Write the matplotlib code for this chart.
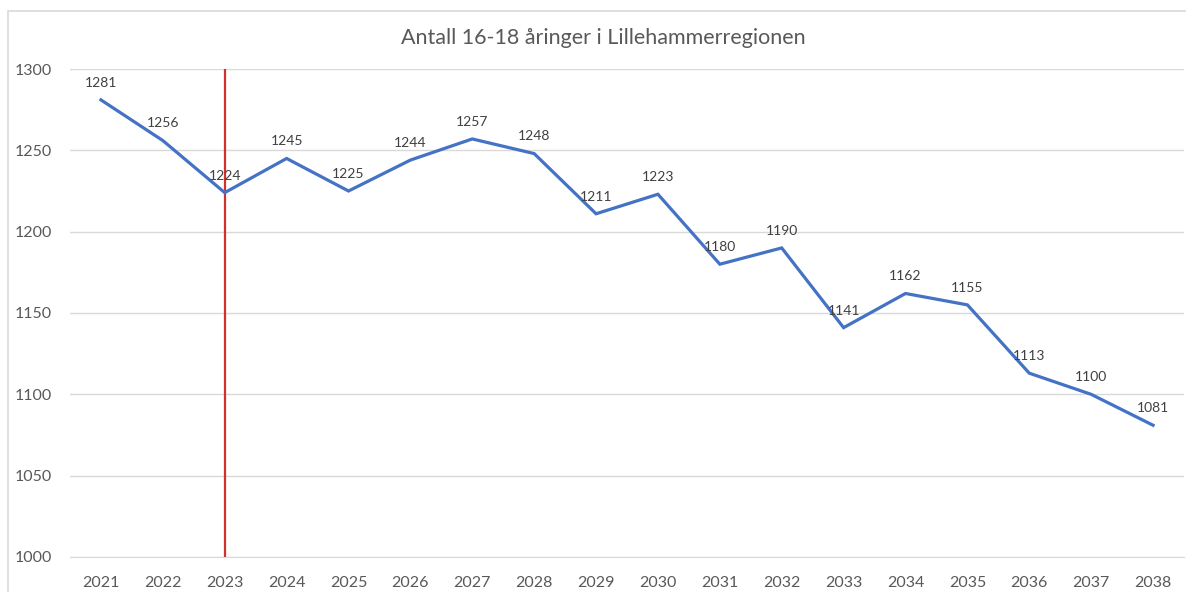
import matplotlib
matplotlib.use("Agg")
import matplotlib.pyplot as plt
from matplotlib.patches import Rectangle

years = [str(y) for y in range(2021, 2039)]
values = [1281, 1256, 1224, 1245, 1225, 1244, 1257, 1248, 1211, 1223,
          1180, 1190, 1141, 1162, 1155, 1113, 1100, 1081]
title = "Antall 16-18 åringer i Lillehammerregionen"
marker_year = "2023"
yticks = [1000, 1050, 1100, 1150, 1200, 1250, 1300]

plt.rcParams['font.family'] = ['Lato', 'DejaVu Sans']

fig = plt.figure(figsize=(11.86, 5.92), dpi=100)
# outer chart border (extends off the right/bottom edges)
fig.patches.append(Rectangle((8/1186, -0.01), 1.1, 1 - 11/592 + 0.01,
                             transform=fig.transFigure, fill=False,
                             edgecolor='#d9d9d9', linewidth=1.2))
ax = fig.add_axes([70/1186, 1 - 557/592, 1114/1186, (557 - 69)/592])

x = list(range(len(years)))
ax.plot(x, values, color='#4472C4', linewidth=2.3, solid_joinstyle='miter', zorder=3)
for xi, v in zip(x, values):
    ax.annotate(str(v), (xi, v), xytext=(0, 8), textcoords='offset points',
                ha='center', va='bottom', fontsize=10, color='#404040', zorder=4)

mi = years.index(marker_year)
ax.plot([mi, mi], [yticks[0], yticks[-1]], color='#D0312D', linewidth=1.6, zorder=2)

ax.set_xlim(-0.5, len(years) - 0.5)
ax.set_ylim(yticks[0], yticks[-1])
ax.set_yticks(yticks)
ax.set_xticks(x)
ax.set_xticklabels(years)
ax.yaxis.grid(True, color='#d9d9d9', linewidth=1)
ax.set_axisbelow(True)
for s in ax.spines.values():
    s.set_visible(False)
ax.spines['bottom'].set_visible(True)
ax.spines['bottom'].set_color('#d9d9d9')
ax.tick_params(axis='both', length=0, labelsize=11.5, labelcolor='#595959')
ax.tick_params(axis='x', pad=14)
ax.tick_params(axis='y', pad=13)

fig.text(603/1186, 1 - 38/592, title, ha='center', va='center',
         fontsize=15.5, color='#595959')

fig.savefig('out.png', dpi=100)
